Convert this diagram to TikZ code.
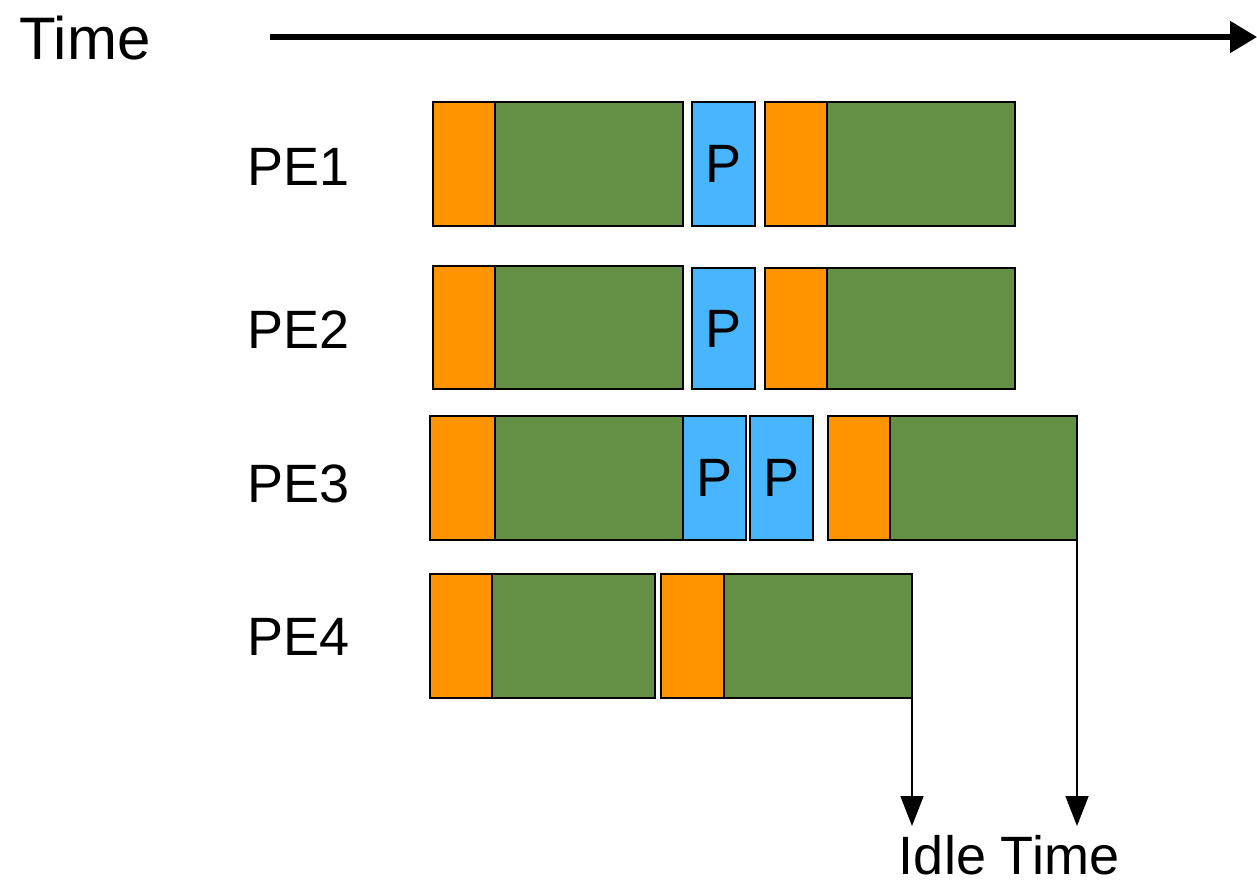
\documentclass[tikz,border=0pt]{standalone}
\usepackage{fontspec}
\setmainfont{Liberation Sans}
\usetikzlibrary{arrows.meta, fit}
\definecolor{loadorange}{HTML}{FF9300}
\definecolor{compgreen}{HTML}{649046}
\definecolor{packblue}{HTML}{48B6FF}

\begin{document}
\begin{tikzpicture}[
        x=0.5pt, y=-0.5pt,
        seg/.style={draw=black, line width=1.3pt, inner sep=0pt, outer sep=0pt},
        load/.style={seg, fill=loadorange},
        comp/.style={seg, fill=compgreen},
        pack/.style={seg, fill=packblue, label={[font=\fontsize{27}{32}\selectfont]center:P}},
        pe/.style={anchor=east, font=\fontsize{27}{32}\selectfont},
        timearrow/.style={line width=2.6pt, -{Triangle[length=13.5pt, width=15.5pt]}},
        idlearrow/.style={line width=0.8pt, -{Triangle[length=15pt, width=11.5pt]}}
    ]
    \useasboundingbox (0,0) rectangle (1257,885);

    % time axis
    \node (time) at (85,38) [font=\fontsize{30}{36}\selectfont] {Time};
    \coordinate (t0) at (270,37);
    \coordinate (t1) at (1257,37);
    \draw[timearrow] (t0) -- (t1);

    % PE1
    \node (pe1) at (357,167) [pe] {PE1};
    \node (pe1a) [load, fit={(433,102) (495,226)}] {};
    \node (pe1b) [comp, fit={(495,102) (683,226)}] {};
    \node (pe1p) [pack, fit={(692,102) (755,226)}] {};
    \node (pe1c) [load, fit={(765,102) (827,226)}] {};
    \node (pe1d) [comp, fit={(827,102) (1015,226)}] {};

    % PE2
    \node (pe2) at (357,330) [pe] {PE2};
    \node (pe2a) [load, fit={(433,266) (495,389)}] {};
    \node (pe2b) [comp, fit={(495,266) (683,389)}] {};
    \node (pe2p) [pack, fit={(692,268) (755,389)}] {};
    \node (pe2c) [load, fit={(765,268) (827,389)}] {};
    \node (pe2d) [comp, fit={(827,268) (1015,389)}] {};

    % PE3
    \node (pe3) at (357,484) [pe] {PE3};
    \node (pe3a) [load, fit={(430,416) (495,540)}] {};
    \node (pe3b) [comp, fit={(495,416) (683,540)}] {};
    \node (pe3p) [pack, fit={(683,416) (746,540)}] {};
    \node (pe3q) [pack, fit={(750,416) (813,540)}] {};
    \node (pe3c) [load, fit={(828,416) (890,540)}] {};
    \node (pe3d) [comp, fit={(890,416) (1077,540)}] {};

    % PE4
    \node (pe4) at (357,637) [pe] {PE4};
    \node (pe4a) [load, fit={(430,574) (492,698)}] {};
    \node (pe4b) [comp, fit={(492,574) (655,698)}] {};
    \node (pe4c) [load, fit={(661,574) (724,698)}] {};
    \node (pe4d) [comp, fit={(724,574) (912,698)}] {};

    % idle time
    \node (idle) at (1009,855) [inner sep=0pt, font=\fontsize{27}{32}\selectfont] {Idle Time};
    \coordinate (i4) at (912,826);
    \coordinate (i3) at (1077,826);
    \draw[idlearrow] (pe4d.south east) -- (i4);
    \draw[idlearrow] (pe3d.south east) -- (i3);
\end{tikzpicture}
\end{document}
